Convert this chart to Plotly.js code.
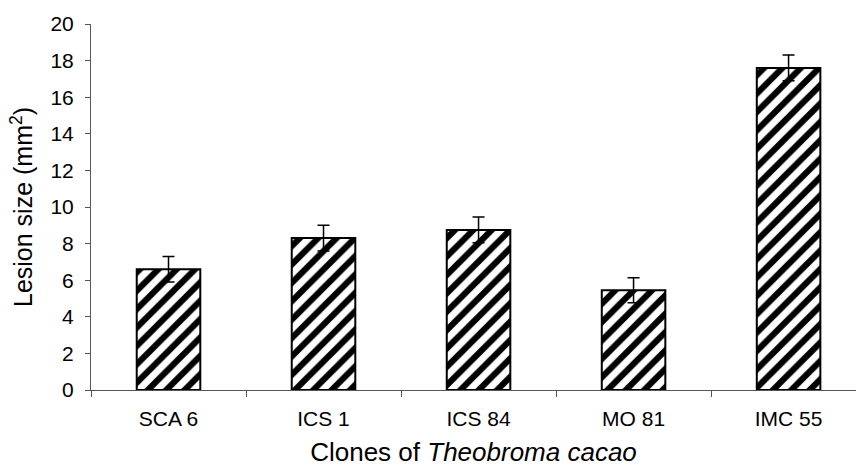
<!DOCTYPE html>
<html>
<head>
<meta charset="utf-8">
<script src="https://cdn.plot.ly/plotly-3.0.1.min.js"></script>
<style>html,body{margin:0;padding:0;background:#fff;}#chart{width:856px;height:467px;}</style>
</head>
<body>
<div id="chart"></div>
<script>
const clones = ["SCA 6", "ICS 1", "ICS 84", "MO 81", "IMC 55"];
const lesionSize = [6.6, 8.3, 8.75, 5.45, 17.6];
const errorValues = [0.7, 0.7, 0.7, 0.68, 0.7];
const yTicks = [0, 2, 4, 6, 8, 10, 12, 14, 16, 18, 20];

const trace = {
  type: "bar",
  x: clones,
  y: lesionSize,
  width: 0.41,
  marker: {
    color: "white",
    line: {color: "black", width: 2},
    pattern: {shape: "/", fgcolor: "black", bgcolor: "white", size: 13, solidity: 0.48, fillmode: "replace"}
  },
  error_y: {type: "data", array: errorValues, visible: true, color: "black", thickness: 1.5, width: 6}
};

const layout = {
  width: 856, height: 467,
  margin: {l: 91, r: 0, t: 24, b: 77},
  paper_bgcolor: "white", plot_bgcolor: "white",
  showlegend: false,
  font: {family: "Liberation Sans, Arial, sans-serif", color: "black"},
  xaxis: {
    type: "category",
    range: [-0.5, 4.435],
    showline: true, linecolor: "#555", linewidth: 1,
    ticks: "outside", tickson: "boundaries", ticklen: 6, tickcolor: "#555",
    ticklabelstandoff: 10,
    showgrid: false, zeroline: false,
    tickfont: {size: 21},
    title: {text: "Clones of <i>Theobroma cacao</i>", font: {size: 26}, standoff: 22}
  },
  yaxis: {
    range: [0, 20],
    tickvals: yTicks,
    showline: true, linecolor: "#555", linewidth: 1,
    ticks: "outside", ticklen: 5, tickcolor: "#555",
    ticklabelstandoff: 7,
    showgrid: false, zeroline: false,
    tickfont: {size: 21},
    title: {text: "Lesion size (mm<sup>2</sup>)", font: {size: 25}, standoff: 10}
  }
};

Plotly.newPlot("chart", [trace], layout, {displayModeBar: false, staticPlot: true});
</script>
</body>
</html>
